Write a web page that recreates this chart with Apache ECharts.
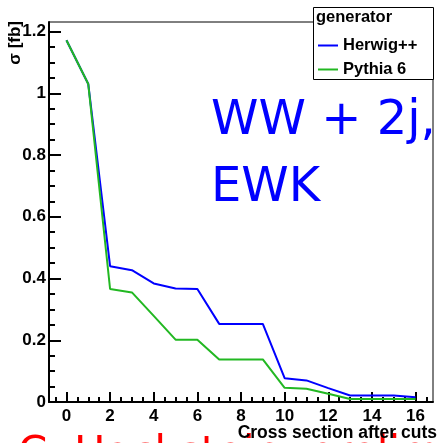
<!DOCTYPE html>
<html>
<head>
<meta charset="utf-8">
<script src="https://cdn.jsdelivr.net/npm/echarts@6/dist/echarts.min.js"></script>
<style>
  html, body { margin: 0; padding: 0; background: #fff; }
  #chart { width: 444px; height: 443px; }
</style>
</head>
<body>
<div id="chart"></div>
<script>
// Cut index (x axis)
const cutIndex = [0, 1, 2, 3, 4, 5, 6, 7, 8, 9, 10, 11, 12, 13, 14, 15, 16];
// Cross section after each cut, in fb
const herwigValues = [1.172, 1.030, 0.440, 0.427, 0.384, 0.368, 0.366, 0.253, 0.253, 0.253, 0.077, 0.070, 0.045, 0.021, 0.021, 0.021, 0.015];
const pythiaValues = [1.172, 1.030, 0.366, 0.355, 0.279, 0.202, 0.202, 0.138, 0.138, 0.138, 0.046, 0.043, 0.027, 0.010, 0.010, 0.010, 0.010];
// Tick positions
const xMajorTicks = [0, 2, 4, 6, 8, 10, 12, 14, 16];
const xMinorTicks = [-0.5, 0, 0.5, 1, 1.5, 2, 2.5, 3, 3.5, 4, 4.5, 5, 5.5, 6, 6.5, 7, 7.5, 8, 8.5, 9, 9.5, 10, 10.5, 11, 11.5, 12, 12.5, 13, 13.5, 14, 14.5, 15, 15.5, 16, 16.5];
const yMajorTicks = [0, 0.2, 0.4, 0.6, 0.8, 1, 1.2];
const yMinorTicks = [0, 0.05, 0.1, 0.15, 0.2, 0.25, 0.3, 0.35, 0.4, 0.45, 0.5, 0.55, 0.6, 0.65, 0.7, 0.75, 0.8, 0.85, 0.9, 0.95, 1, 1.05, 1.1, 1.15, 1.2];
const seriesNames = ['Herwig++', 'Pythia 6'];

const X_MIN = -0.8, X_MAX = 16.8, Y_MIN = 0, Y_MAX = 1.231;
const FONT = '"Liberation Sans", Arial, Helvetica, sans-serif';

const pairs = (xs, ys) => xs.map((x, i) => [x, ys[i]]);

const chart = echarts.init(document.getElementById('chart'), null, { renderer: 'canvas' });

const baseX = {
  type: 'value', min: X_MIN, max: X_MAX, position: 'bottom', offset: 0,
  splitLine: { show: false }
};
const baseY = {
  type: 'value', min: Y_MIN, max: Y_MAX, position: 'left', offset: 0,
  splitLine: { show: false }
};

chart.setOption({
  animation: false,
  backgroundColor: '#ffffff',
  grid: {
    left: 49, top: 22, right: 11, bottom: 41,
    show: true, borderColor: '#000', borderWidth: 1, backgroundColor: 'transparent'
  },
  xAxis: [
    Object.assign({}, baseX, {
      axisLine: { show: true, onZero: false, lineStyle: { color: '#000', width: 2 } },
      axisTick: { show: true, inside: true, length: 10, customValues: xMajorTicks, lineStyle: { color: '#000', width: 2 } },
      axisLabel: {
        show: true, customValues: xMajorTicks, margin: 6,
        color: '#000', fontFamily: FONT, fontWeight: 'bold', fontSize: 17
      }
    }),
    Object.assign({}, baseX, {
      axisLine: { show: false, onZero: false },
      axisTick: { show: true, inside: true, length: 5, customValues: xMinorTicks, lineStyle: { color: '#000', width: 2 } },
      axisLabel: { show: false }
    })
  ],
  yAxis: [
    Object.assign({}, baseY, {
      axisLine: { show: true, onZero: false, lineStyle: { color: '#000', width: 2 } },
      axisTick: { show: true, inside: true, length: 12, customValues: yMajorTicks, lineStyle: { color: '#000', width: 2 } },
      axisLabel: {
        show: true, customValues: yMajorTicks, margin: 3,
        color: '#000', fontFamily: FONT, fontWeight: 'bold', fontSize: 17
      }
    }),
    Object.assign({}, baseY, {
      axisLine: { show: false, onZero: false },
      axisTick: { show: true, inside: true, length: 6, customValues: yMinorTicks, lineStyle: { color: '#000', width: 2 } },
      axisLabel: { show: false }
    })
  ],
  legend: {
    data: [
      { name: seriesNames[0], icon: 'rect' },
      { name: seriesNames[1], icon: 'rect' }
    ],
    orient: 'vertical',
    left: 318, top: 36,
    itemWidth: 20, itemHeight: 2, itemGap: 5,
    padding: 0,
    z: 20,
    textStyle: { color: '#000', fontFamily: FONT, fontWeight: 'bold', fontSize: 16.5, lineHeight: 19 }
  },
  series: [
    {
      name: seriesNames[0], type: 'line', xAxisIndex: 0, yAxisIndex: 0,
      data: pairs(cutIndex, herwigValues),
      symbol: 'none', color: '#0000ff',
      lineStyle: { color: '#0000ff', width: 2 }, z: 3
    },
    {
      name: seriesNames[1], type: 'line', xAxisIndex: 0, yAxisIndex: 0,
      data: pairs(cutIndex, pythiaValues),
      symbol: 'none', color: '#22b822',
      lineStyle: { color: '#22b822', width: 2 }, z: 4
    }
  ],
  graphic: [
    // legend frame with header
    { type: 'rect', z: 15, shape: { x: 313.5, y: 7.5, width: 120, height: 72 },
      style: { fill: '#fff', stroke: '#000', lineWidth: 1 } },
    { type: 'text', z: 16, x: 316, y: 17,
      style: { text: 'generator', fill: '#000', font: 'bold 16.5px ' + FONT, align: 'left', verticalAlign: 'middle' } },
    // process label
    { type: 'text', z: 12, x: 211, y: 122,
      style: { text: 'WW + 2j,', fill: '#0000ff', font: '48px "DejaVu Sans"', align: 'left', verticalAlign: 'middle' } },
    { type: 'text', z: 12, x: 211, y: 189,
      style: { text: 'EWK', fill: '#0000ff', font: '48px "DejaVu Sans"', align: 'left', verticalAlign: 'middle' } },
    // author stamp along the bottom edge
    { type: 'text', z: 1, x: 18, y: 455,
      style: { text: 'C. Hackstein, preliminary', fill: '#ff0000', font: '42px "DejaVu Sans"', align: 'left', verticalAlign: 'middle' } },
    // axis titles
    { type: 'text', z: 14, x: 437, y: 433,
      style: { text: 'Cross section after cuts', fill: '#000', font: 'bold 17.5px ' + FONT, align: 'right', verticalAlign: 'middle' } },
    { type: 'text', z: 14, x: 15, y: 21, rotation: Math.PI / 2,
      style: { text: 'σ [fb]', fill: '#000', font: 'bold 17px ' + FONT, align: 'right', verticalAlign: 'middle' } }
  ]
});
</script>
</body>
</html>
